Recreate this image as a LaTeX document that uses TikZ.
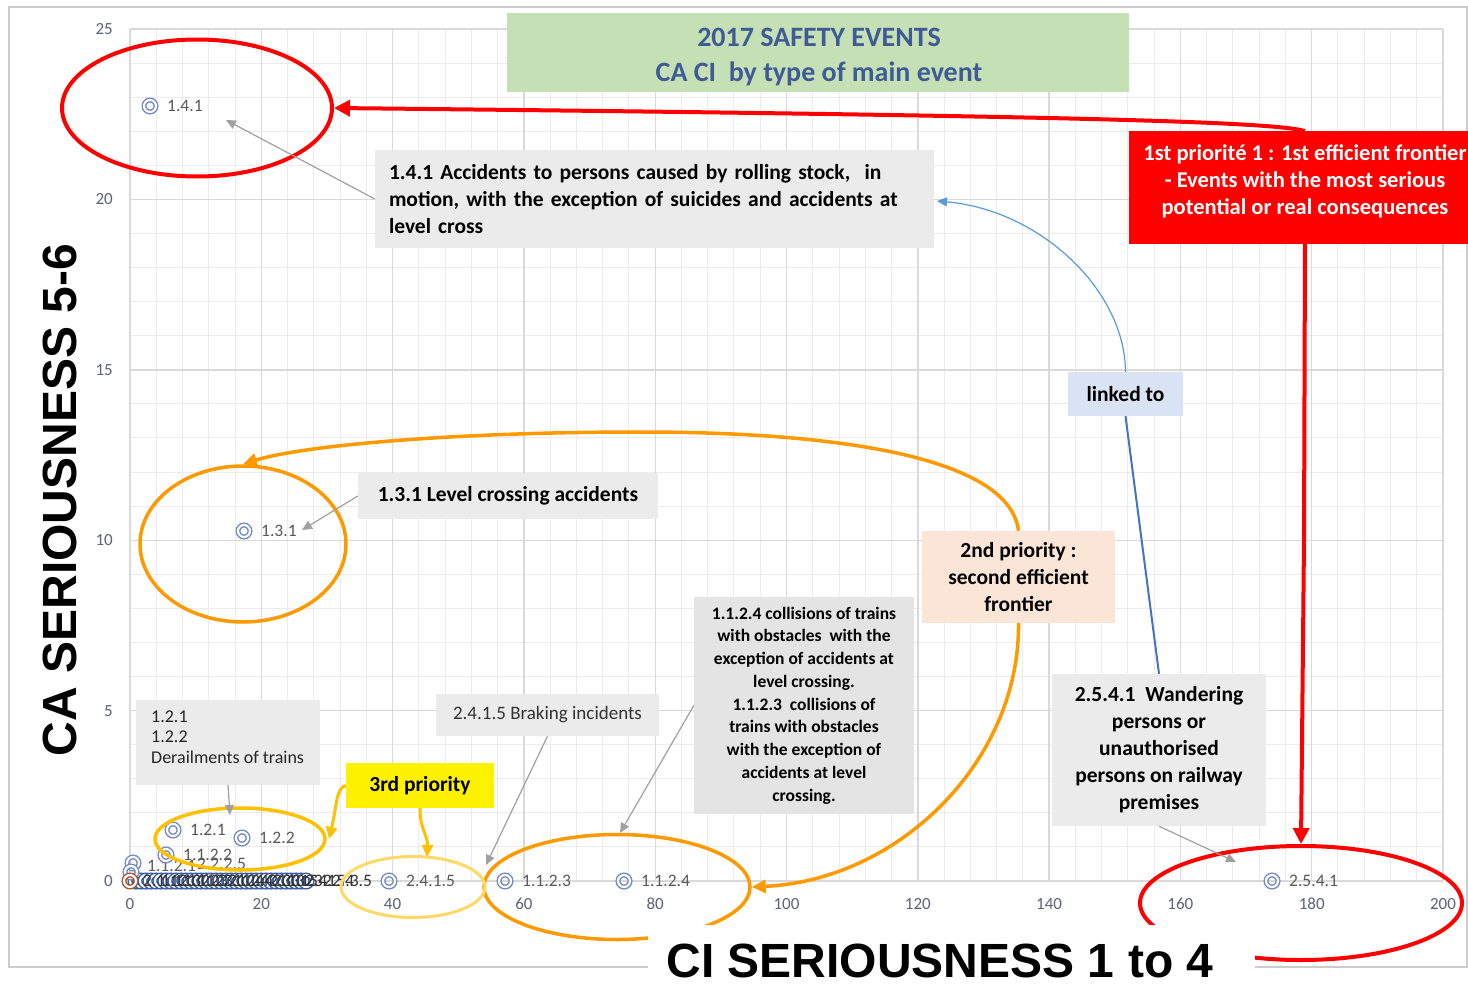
\documentclass[tikz,border=0pt]{standalone}
\usepackage{fontspec}
\setmainfont{Carlito}
\newfontfamily\arialf{Liberation Sans}
\usetikzlibrary{arrows.meta,shapes.geometric}
\definecolor{mk}{RGB}{112,136,196}
\definecolor{mkd}{RGB}{52,86,160}
\definecolor{tick}{RGB}{89,100,120}
\definecolor{lbl}{RGB}{89,89,89}
\definecolor{boxgray}{RGB}{235,235,235}
\definecolor{boxgray2}{RGB}{228,228,228}
\definecolor{titlegreen}{RGB}{197,224,180}
\definecolor{titleblue}{RGB}{63,91,150}
\definecolor{peach}{RGB}{251,229,214}
\definecolor{lightblue}{RGB}{218,227,243}
\definecolor{orng}{RGB}{255,153,0}
\definecolor{gold}{RGB}{255,192,0}
\definecolor{paleyel}{RGB}{255,217,102}
\definecolor{curveblue}{RGB}{91,155,213}
\definecolor{lineblue}{RGB}{68,114,196}
\definecolor{leader}{RGB}{160,160,160}
\definecolor{minorg}{RGB}{236,236,236}
\definecolor{majorg}{RGB}{217,217,217}
\definecolor{brownmk}{RGB}{165,85,45}
\begin{document}
\begin{tikzpicture}[x=1pt,y=-1pt,
  datapt/.style={circle, draw=mk, line width=1.4pt, double=white, double distance=2.2pt, minimum size=12pt, inner sep=0pt},
  dlbl/.style={anchor=west, text=lbl, font=\fontsize{17.5}{20}\selectfont, inner sep=1pt},
  ticklbl/.style={text=tick, font=\fontsize{17}{20}\selectfont, inner sep=1pt},
  graybox/.style={fill=boxgray, draw=none, inner sep=0pt},
  boldtxt/.style={font=\bfseries\fontsize{21.5}{27}\selectfont},
  ell/.style={ellipse, draw, inner sep=0pt},
  leadarrow/.style={draw=leader, line width=1.2pt, -{Triangle[length=10pt,width=9pt]}},
  redarr/.style={draw=red, line width=4pt, -{Triangle[length=16pt,width=16pt]}},
  orarr/.style={draw=orng, line width=3.5pt, -{Triangle[length=14pt,width=13pt]}},
  goldarr/.style={draw=gold, line width=3pt, -{Triangle[length=12pt,width=11pt]}}
]
\useasboundingbox (0,0) rectangle (1468,985);
\fill[white] (0,0) rectangle (1468,985);
% chart frame
\draw[black!20, line width=1.2pt] (9,7) rectangle (1467,967);
% grid
\foreach \i in {0,...,50} { \draw[minorg, line width=1pt] ({130+\i*26.26},29) -- ({130+\i*26.26},881); }
\foreach \j in {0,...,25} { \draw[minorg, line width=1pt] (130,{29+\j*34.08}) -- (1443,{29+\j*34.08}); }
\foreach \i in {0,...,10} { \draw[majorg, line width=1.4pt] ({130+\i*131.3},29) -- ({130+\i*131.3},881); }
\foreach \j in {0,...,5} { \draw[majorg, line width=1.4pt] (130,{29+\j*170.4}) -- (1443,{29+\j*170.4}); }
% tick labels
\foreach \v [count=\k from 0] in {25,20,15,10,5,0} { \node[ticklbl, anchor=east] (yt\k) at (114,{29+\k*170.4}) {\v}; }
\foreach \v [count=\k from 0] in {0,20,40,60,80,100,120,140,160,180,200} { \node[ticklbl] (xt\k) at ({130+\k*131.3},904) {\v}; }
% axis title (vertical)
\node[rotate=90, font=\arialf\bfseries\fontsize{48}{56}\selectfont] (cat) at (60,500) {CA SERIOUSNESS 5-6};
% cluster near origin
\foreach \x [count=\n] in {136,141,...,306} { \node[datapt, draw=mkd] (cm\n) at (\x,881) {}; }
\node[datapt] (cu1) at (133,863) {};
\node[datapt] (cu2) at (131,872) {};
\node[dlbl] (cul1) at (146,866) {1.1.2.1};
\node[dlbl] (cul2) at (196,864) {2.2.2.5};
\foreach \x/\t [count=\n] in {142/2.1.1.1,160/1.1.1.2,178/2.3.1.3,196/1.2.3.1,214/2.2.1.4,232/1.2.4.2,250/2.4.1.3,268/2.3.3.5,286/1.1.3.1,304/2.4.2.4,322/2.5.3.5} { \node[dlbl, text=black!80] (cl\n) at (\x,881) {\t}; }
\node[datapt, draw=brownmk] (cbr) at (130,881) {};
% data points
\node[datapt] (m141) at (150,106) {};   \node[dlbl] (l141) at (166,106) {1.4.1};
\node[datapt] (m131) at (244,531) {};   \node[dlbl] (l131) at (260,531) {1.3.1};
\node[datapt] (m2541) at (1272,881) {}; \node[dlbl] (l2541) at (1288,881) {2.5.4.1};
\node[datapt] (m1124) at (624,881) {};  \node[dlbl] (l1124) at (640,881) {1.1.2.4};
\node[datapt] (m1123) at (505,881) {};  \node[dlbl] (l1123) at (521,881) {1.1.2.3};
\node[datapt] (m2415) at (389,881) {};  \node[dlbl] (l2415) at (405,881) {2.4.1.5};
\node[datapt] (m121) at (173,830) {};   \node[dlbl] (l121) at (189,830) {1.2.1};
\node[datapt] (m122) at (242,838) {};   \node[dlbl] (l122) at (258,838) {1.2.2};
\node[datapt] (m1122) at (166,855) {};  \node[dlbl] (l1122) at (182,855) {1.1.2.2};
% title box
\node[fill=titlegreen, minimum width=622pt, minimum height=79pt, inner sep=0pt] (ttl) at (818,52.5) {};
\node[text=titleblue, font=\bfseries\fontsize{28}{35}\selectfont, align=center, inner sep=0pt] (ttlt) at (819,57) {2017 SAFETY EVENTS\\CA CI\ \ by type of main event};
% annotation boxes
\node[graybox, minimum width=559pt, minimum height=98pt, text width=531pt, align=left, boldtxt] (b141) at (654.5,199) {1.4.1 Accidents to persons caused by rolling stock,\ \ in\\motion, with the exception of suicides and accidents at\\level cross};
\node[fill=red, minimum width=339pt, minimum height=113pt, inner sep=0pt] (p1) at (1298.5,187.5) {};
\node[text=white, font=\bfseries\fontsize{22.5}{27}\selectfont, align=center, inner sep=0pt] (p1t) at (1305,181) {1st priorité 1 : 1st efficient frontier\\- Events with the most serious\\potential or real consequences};
\node[fill=lightblue, minimum width=115pt, minimum height=44pt, inner sep=0pt, boldtxt] (lk) at (1125.5,394) {linked to};
\node[graybox, minimum width=214pt, minimum height=152pt, align=center, boldtxt] (b2541) at (1159,750) {2.5.4.1\ \ Wandering\\persons or\\unauthorised\\persons on railway\\premises};
\node[graybox, minimum width=300pt, minimum height=46pt, boldtxt] (b131) at (508,496) {1.3.1 Level crossing accidents};
\node[fill=peach, minimum width=193pt, minimum height=92pt, inner sep=0pt, align=center, boldtxt] (pr2) at (1018.5,577) {2nd priority :\\second efficient\\frontier};
\node[fill=boxgray2, minimum width=220pt, minimum height=217pt, inner sep=0pt, align=center, font=\bfseries\fontsize{17.5}{22.75}\selectfont] (b1124) at (804,705.5) {1.1.2.4 collisions of trains\\with obstacles\ \ with the\\exception of accidents at\\level crossing.\\1.1.2.3\ \ collisions of\\trains with obstacles\\with the exception of\\accidents at level\\crossing.};
\node[graybox, minimum width=223pt, minimum height=42pt, text=black!80, font=\fontsize{19}{22}\selectfont] (b2415) at (547.5,715) {2.4.1.5 Braking incidents};
\node[fill=yellow, minimum width=148pt, minimum height=45pt, inner sep=0pt, boldtxt] (t3) at (420,785.5) {3rd priority};
\node[graybox, minimum width=184pt, minimum height=85pt] (bder) at (228,742.5) {};
\node[anchor=west, align=left, font=\fontsize{18}{20.5}\selectfont, text=black!85, inner sep=0pt] (bdert) at (151,737) {1.2.1\\1.2.2\\Derailments of trains};
% ellipses
\node[ell, draw=red, line width=4pt, minimum width=270pt, minimum height=137pt] (e141) at (197,108) {};
\node[ell, draw=red, line width=4pt, minimum width=322pt, minimum height=114pt] (e2541) at (1301,903) {};
\node[ell, draw=orng, line width=3.5pt, minimum width=206pt, minimum height=156pt] (e131) at (243,544) {};
\node[ell, draw=orng, line width=3.5pt, minimum width=266pt, minimum height=105pt] (e112) at (617,887) {};
\node[ell, draw=gold, line width=3.5pt, minimum width=170pt, minimum height=62pt] (e12) at (240,839) {};
\node[ell, draw=paleyel, line width=3pt, minimum width=144pt, minimum height=61pt] (e2415) at (413,887) {};
% leader arrows
\coordinate (a141) at (226,120);
\coordinate (a131) at (302,530);
\coordinate (ader) at (230,815);
\coordinate (abrk) at (486,865);
\coordinate (a1124) at (620,833);
\coordinate (a2541) at (1236,862);
\draw[leadarrow] (b141.west) -- (a141);
\draw[leadarrow] (b131.west) -- (a131);
\draw[leadarrow] (bder.south) -- (ader);
\draw[leadarrow] (b2415.south) -- (abrk);
\draw[leadarrow] (b1124.west) -- (a1124);
\draw[leadarrow] (b2541.south) -- (a2541);
% red arrows
\coordinate (p1top) at (1305,131);
\coordinate (p1bot) at (1305,244);
\coordinate (rbend) at (1304,540);
\draw[redarr] (p1top) .. controls (1270,122) and (1100,116) .. (e141.east);
\draw[redarr] (p1bot) -- (rbend) -- (e2541.north);
% blue links
\coordinate (bl141) at (937,201);
\draw[curveblue, line width=1.2pt, -{Triangle[length=10pt,width=9pt]}] (lk.north) .. controls (1125,290) and (1040,210) .. (bl141);
\draw[lineblue, line width=2pt] (lk.south) -- (b2541.north);
% orange arrows
\coordinate (opeak) at (640,432);
\draw[orarr] (pr2.north) .. controls (1010,460) and (850,432) .. (opeak) .. controls (450,432) and (300,446) .. (e131.north);
\draw[orarr] (pr2.south) .. controls (1020,760) and (900,880) .. (e112.east);
% gold arrows
\coordinate (g12) at (329,839);
\coordinate (g2415) at (427,857);
\draw[goldarr] (t3.west) .. controls (336,788) and (337,805) .. (g12);
\draw[goldarr] (t3.south) .. controls (420,830) and (428,835) .. (g2415);
% bottom title
\node[fill=white, minimum width=607pt, minimum height=60pt, inner sep=0pt] (cibox) at (951.5,955) {};
\node[font=\arialf\bfseries\fontsize{48}{56}\selectfont, inner sep=0pt] (cit) at (940,961) {CI SERIOUSNESS 1 to 4};
\end{tikzpicture}
\end{document}
